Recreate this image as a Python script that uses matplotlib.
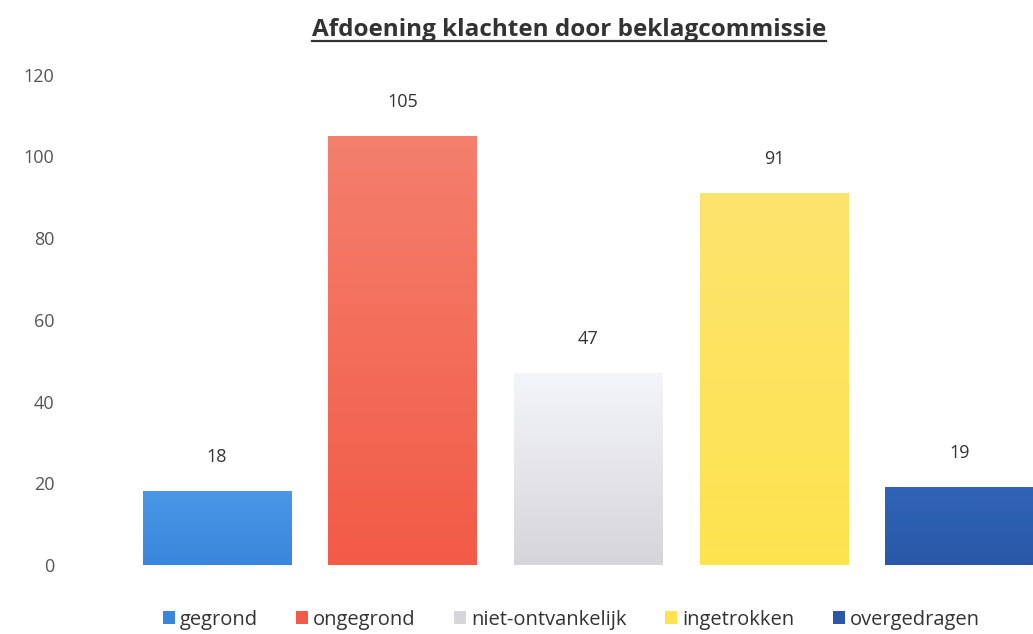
import numpy as np
import matplotlib.pyplot as plt
from matplotlib.patches import Patch

plt.rcParams['font.family'] = ['Open Sans', 'DejaVu Sans']

categories = ['gegrond', 'ongegrond', 'niet-ontvankelijk', 'ingetrokken', 'overgedragen']
values = [18, 105, 47, 91, 19]
top_colors = ['#4a96e6', '#f47f6d', '#f4f5f8', '#fde36e', '#2f64b6']
bottom_colors = ['#3a86dc', '#f25b47', '#d6d6da', '#fde34e', '#2a58a8']

fig = plt.figure(figsize=(10.33, 6.34), dpi=100)
ax = fig.add_axes([0.120, 0.109, 0.899, 0.773])

x = np.arange(len(categories))
bars = ax.bar(x, values, width=0.8, color='none', edgecolor='none')

# vertical gradient inside each bar
for bar, c_top, c_bot in zip(bars, top_colors, bottom_colors):
    x0, y0 = bar.get_x(), bar.get_y()
    w, h = bar.get_width(), bar.get_height()
    t = np.linspace(0, 1, 64)[:, None]
    ct = np.array(plt.matplotlib.colors.to_rgb(c_top))
    cb = np.array(plt.matplotlib.colors.to_rgb(c_bot))
    img = (cb * (1 - t) + ct * t)[:, None, :]
    im = ax.imshow(img, extent=[x0, x0 + w, y0, y0 + h], origin='lower',
                   aspect='auto', zorder=2)
    im.set_clip_path(bar)

for xi, v in zip(x, values):
    ax.annotate(str(v), (xi, v), xytext=(0, 18), textcoords='offset points',
                ha='center', va='bottom', fontsize=13, color='#333333')

ax.set_xlim(-0.5, 4.5)
ax.set_ylim(0, 120)
ax.set_yticks(range(0, 121, 20))
ax.set_xticks([])
ax.tick_params(axis='y', length=0, pad=50, labelsize=13, labelcolor='#555555')
for s in ax.spines.values():
    s.set_visible(False)

title = fig.text(0.551, 0.952, 'Afdoening klachten door beklagcommissie', ha='center',
                 va='center', fontsize=17.5, fontweight='bold', color='#333333')
fig.canvas.draw()
bb = title.get_window_extent().transformed(fig.transFigure.inverted())
fig.add_artist(plt.Line2D([bb.x0, bb.x1], [bb.y0 + 0.002, bb.y0 + 0.002],
                          color='#333333', lw=1.6))

handles = [Patch(facecolor=c, edgecolor='none') for c in bottom_colors]
fig.legend(handles, categories, loc='lower center', bbox_to_anchor=(0.553, -0.022),
           ncol=5, frameon=False, fontsize=14.5, handlelength=0.6, handleheight=0.6,
           handletextpad=0.25, columnspacing=1.9, labelcolor='#333333')

fig.savefig('out.png', dpi=100)
